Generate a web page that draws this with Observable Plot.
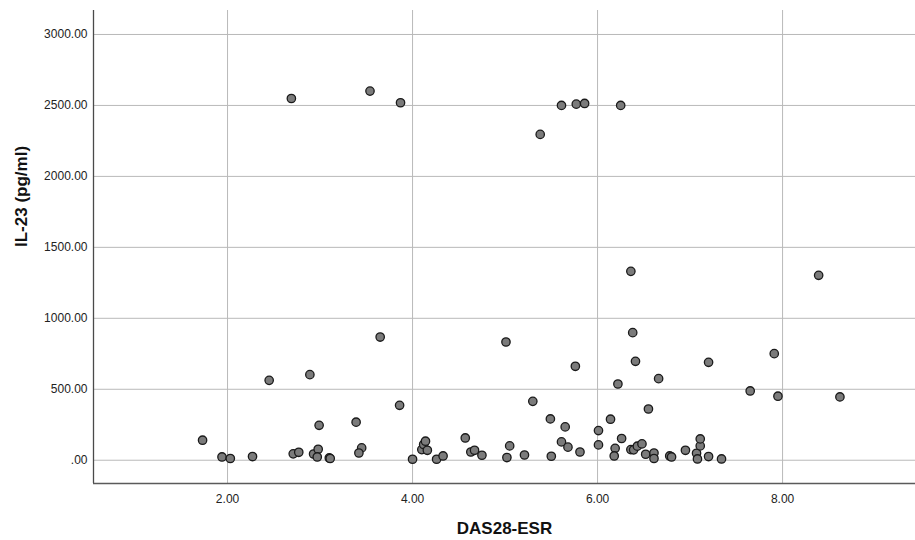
<!DOCTYPE html>
<html>
<head>
<meta charset="utf-8">
<script src="https://cdn.jsdelivr.net/npm/d3@7"></script>
<script src="https://cdn.jsdelivr.net/npm/@observablehq/plot@0.6"></script>
<style>
  html, body { margin: 0; padding: 0; background: #fff; }
</style>
</head>
<body>
<div id="chart"></div>
<script>
// DAS28-ESR (x) and IL-23 pg/ml (y)
const das28 = [
  1.73, 1.94, 2.03, 2.27, 2.45, 2.71, 2.77, 2.89, 2.93, 2.98, 2.97, 2.99, 3.10, 3.11,
  3.39, 3.45, 3.42, 3.65, 3.86, 4.00, 4.10, 4.12, 4.14, 4.16, 4.26, 4.33, 4.57, 4.63,
  4.67, 4.75, 5.01, 5.02, 5.05, 5.21, 5.30, 5.49, 5.50, 5.61, 5.65, 5.68, 5.76, 5.81,
  6.01, 6.01, 6.14, 6.19, 6.18, 6.22, 6.26, 6.36, 6.39, 6.43, 6.48, 6.52, 6.55, 6.61,
  6.61, 6.66, 6.78, 6.80, 6.95, 7.07, 7.08, 7.11, 7.11, 7.20, 7.20, 7.34, 7.65, 7.91,
  7.95, 8.62, 6.36, 6.38, 6.41, 8.39,
  2.69, 3.54, 3.87, 5.38, 5.61, 5.77, 5.86, 6.25
];
const il23 = [
  141, 23, 12, 26, 563, 45, 56, 603, 44, 77, 23, 246, 16, 12,
  268, 87, 51, 868, 387, 7, 75, 111, 134, 70, 7, 30, 157, 58,
  70, 35, 833, 19, 101, 37, 415, 291, 28, 129, 235, 92, 662, 58,
  209, 108, 289, 84, 30, 537, 153, 75, 73, 99, 115, 42, 361, 51,
  12, 575, 30, 23, 70, 49, 9, 101, 150, 26, 690, 9, 488, 751,
  451, 446, 1331, 899, 697, 1303,
  2549, 2601, 2519, 2296, 2500, 2509, 2514, 2500
];

const xTicks = [2, 4, 6, 8];
const xTickLabels = ["2.00", "4.00", "6.00", "8.00"];
const yTicks = [0, 500, 1000, 1500, 2000, 2500, 3000];
const yTickLabels = [".00", "500.00", "1000.00", "1500.00", "2000.00", "2500.00", "3000.00"];

const xTitle = "DAS28-ESR";
const yTitle = "IL-23 (pg/ml)";

const xDomain = [0.551, 9.437];
const yDomain = [-164, 3169];

const points = das28.map((x, i) => ({x, y: il23[i]}));

const chart = Plot.plot({
  width: 915,
  height: 540,
  marginLeft: 93,
  marginRight: 0,
  marginTop: 10,
  marginBottom: 57,
  style: {fontFamily: "'Liberation Sans', Arial, sans-serif", background: "#fff", color: "#222"},
  x: {domain: xDomain},
  y: {domain: yDomain},
  marks: [
    Plot.gridX(xTicks, {stroke: "#b9b9b9", strokeOpacity: 1, strokeWidth: 1}),
    Plot.gridY(yTicks, {stroke: "#b9b9b9", strokeOpacity: 1, strokeWidth: 1}),
    Plot.ruleX([xDomain[0]], {stroke: "#4a4a4a", strokeWidth: 1.3}),
    Plot.ruleY([yDomain[0]], {stroke: "#5a5a5a", strokeWidth: 1.5}),
    Plot.dot(points, {x: "x", y: "y", r: 4.2, fill: "#7b7b7b", stroke: "#1a1a1a", strokeWidth: 1.3}),
    Plot.axisX(xTicks, {
      tickSize: 0, tickPadding: 11, fontSize: 12, label: null,
      tickFormat: d => xTickLabels[xTicks.indexOf(d)]
    }),
    Plot.axisY(yTicks, {
      tickSize: 0, tickPadding: 6, fontSize: 12, label: null,
      tickFormat: d => yTickLabels[yTicks.indexOf(d)]
    }),
    Plot.text([xTitle], {
      frameAnchor: "bottom", dy: 45, fontSize: 17, fontWeight: "bold", fill: "#111", lineAnchor: "middle"
    }),
    Plot.text([yTitle], {
      frameAnchor: "left", dx: -72, rotate: -90, fontSize: 17, fontWeight: "bold", fill: "#111", lineAnchor: "middle"
    })
  ]
});

document.getElementById("chart").appendChild(chart);
</script>
</body>
</html>
